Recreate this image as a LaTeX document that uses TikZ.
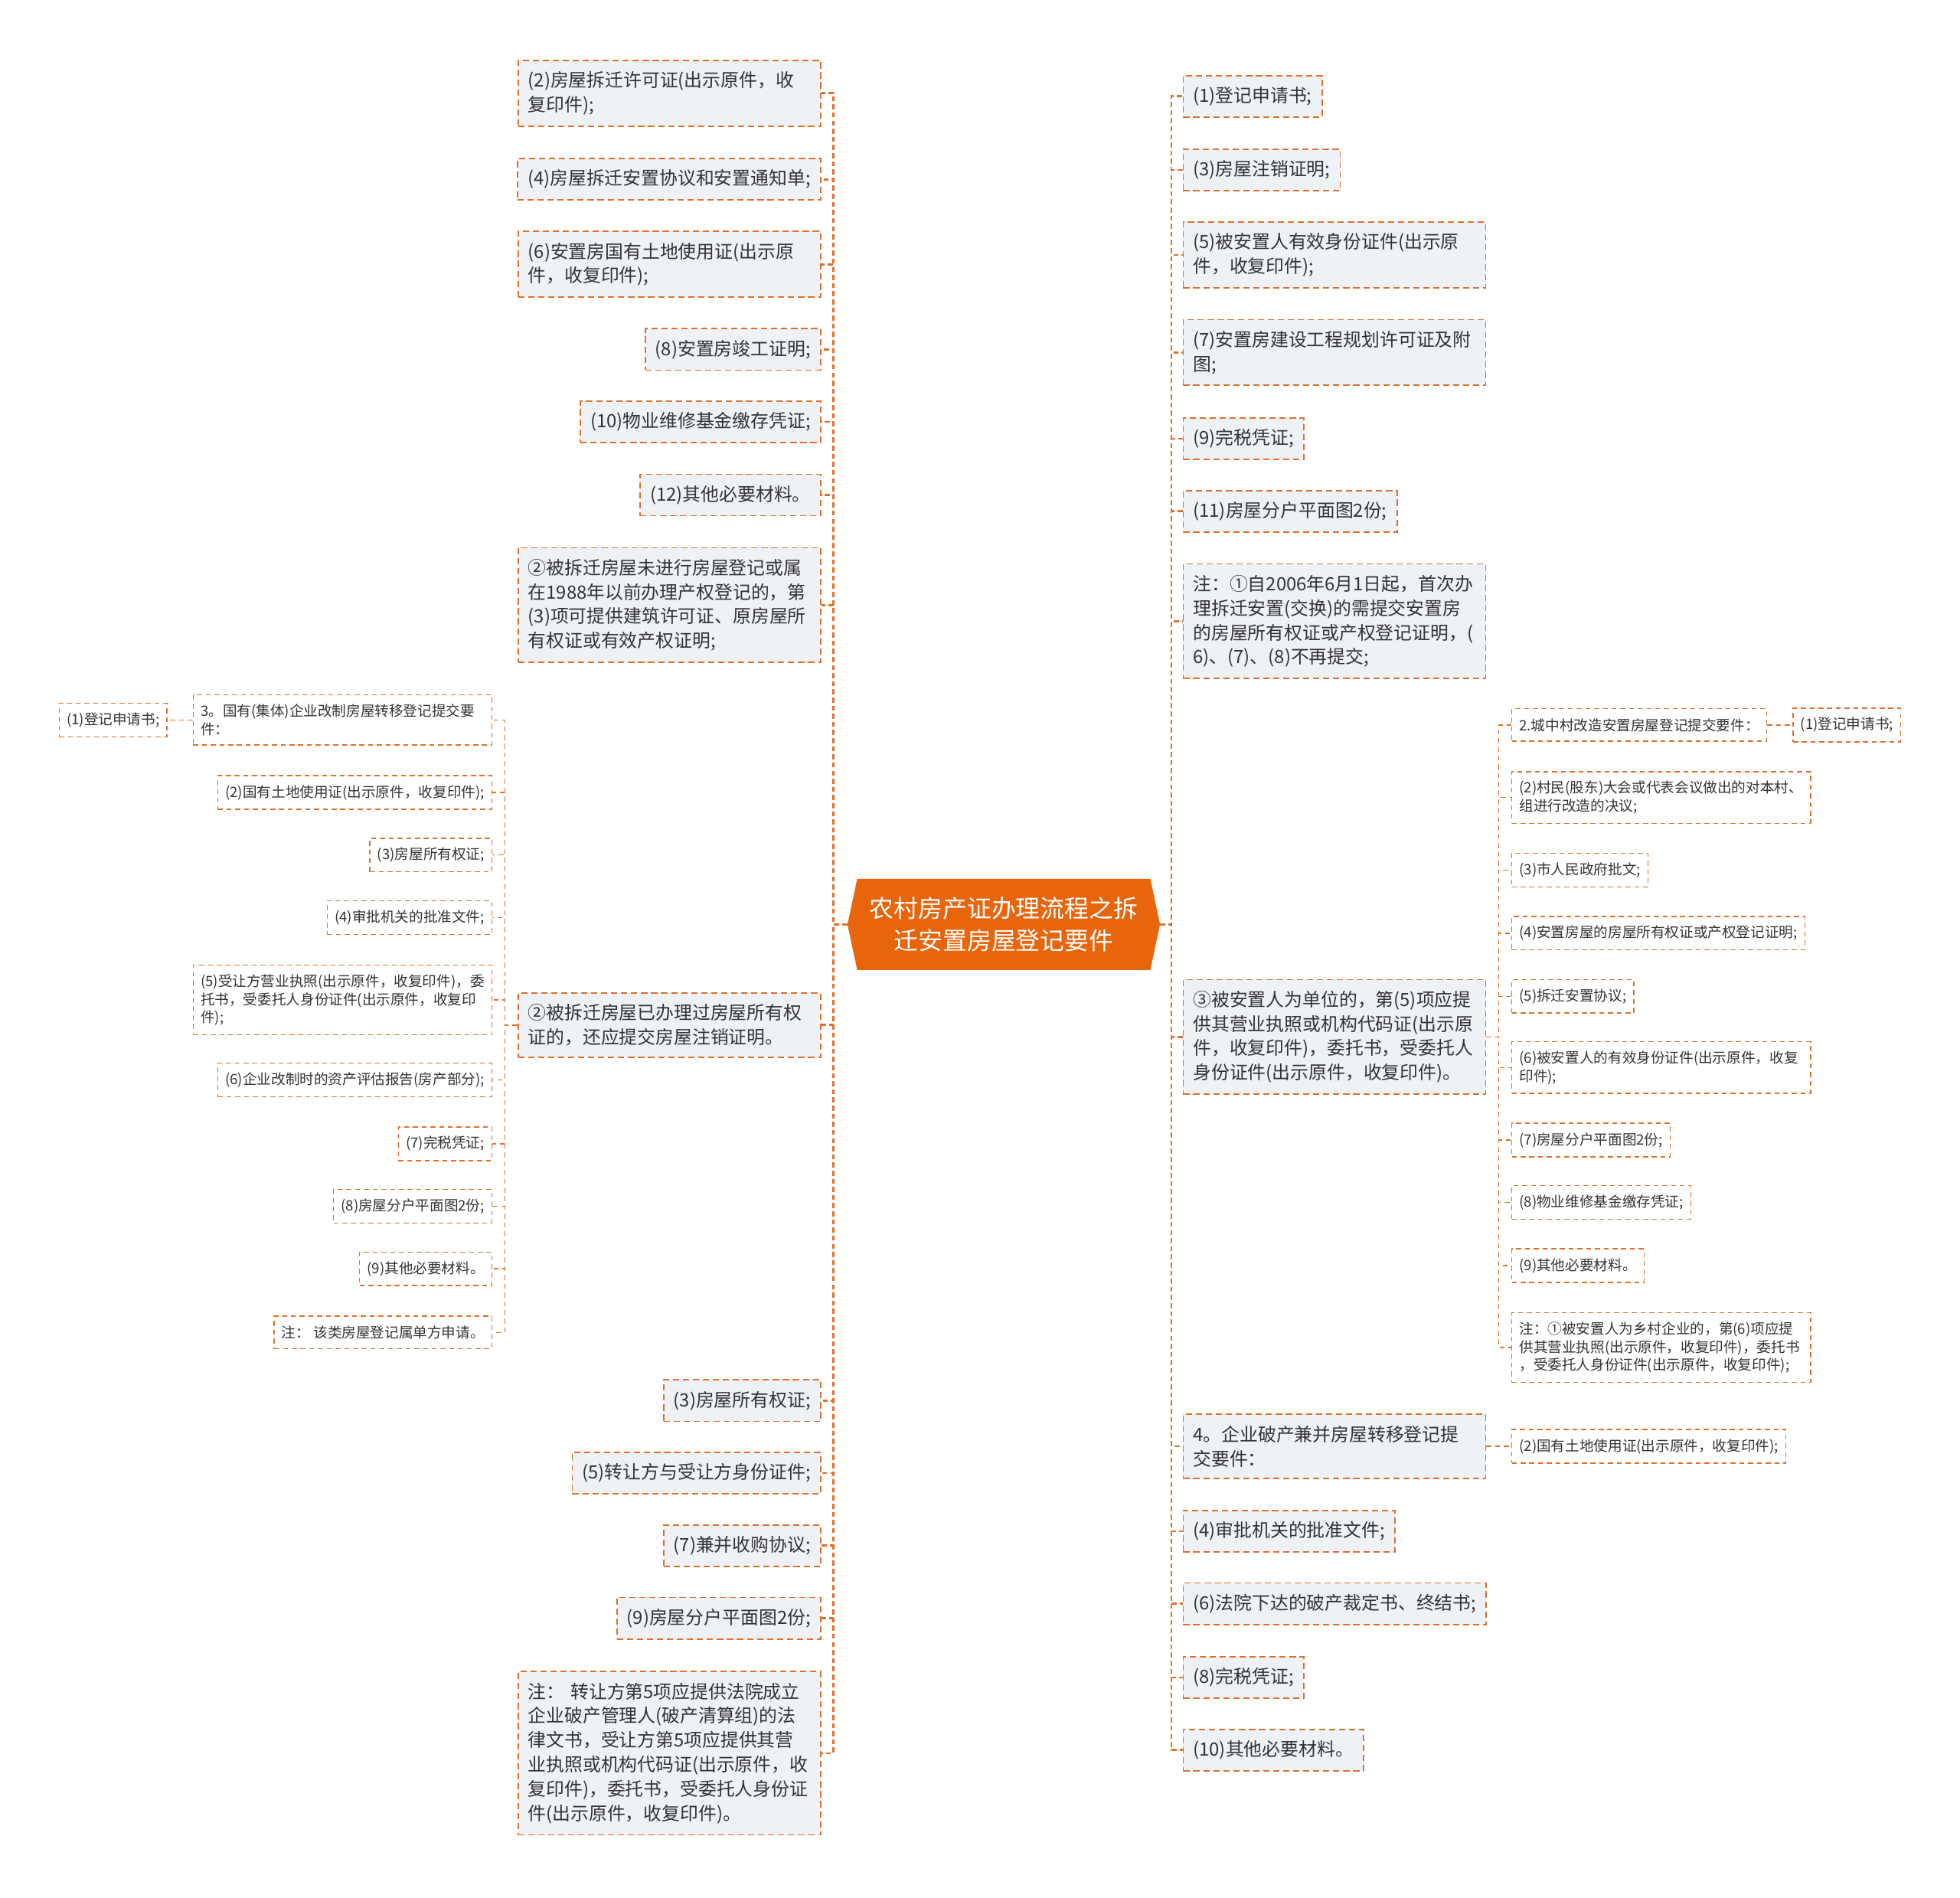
\documentclass[tikz,border=0pt]{standalone}
\usepackage{fontspec}
\setmainfont{Noto Sans CJK SC}
\usetikzlibrary{shapes.symbols}
\definecolor{rootfill}{RGB}{233,101,12}
\definecolor{edgeline}{RGB}{221,112,42}
\definecolor{itemfill}{RGB}{238,241,245}
\definecolor{itemtext}{RGB}{51,51,51}

\begin{document}
\begin{tikzpicture}[
        x=1pt, y=-1pt,
        item/.style={draw=edgeline, line width=1.1pt, dash pattern=on 5pt off 3pt, fill=itemfill, text=itemtext, align=left, inner xsep=8pt, inner ysep=9pt, minimum height=33pt, font=\fontsize{14.6}{19.5}\selectfont},
        itemwide/.style={item, text width=226pt},
        subitem/.style={draw=edgeline, line width=0.9pt, dash pattern=on 4pt off 3pt, fill=white, text=itemtext, align=left, inner xsep=6pt, inner ysep=7.5pt, minimum height=26pt, font=\fontsize{11.4}{14.5}\selectfont},
        subwide/.style={subitem, text width=227pt},
        link/.style={edgeline, line width=1.6pt, dash pattern=on 4pt off 2.5pt},
        sublink/.style={edgeline, line width=0.9pt, dash pattern=on 4pt off 3pt}
    ]
        \useasboundingbox (0,0) rectangle (1568,1518);

        \node[shape=signal, signal to=west and east, signal pointer angle=156, fill=rootfill, text=white, align=center, inner sep=0pt, minimum width=250pt, minimum height=73pt, font=\fontsize{19.5}{26}\selectfont] (root) at (803,739.5) {农村房产证办理流程之拆\\迁安置房屋登记要件};

        \node[itemwide, anchor=east] (demolish) at (657,74.5) {(2)房屋拆迁许可证(出示原件，收\\复印件);};
        \node[item, anchor=east] (agreement) at (657,143.5) {(4)房屋拆迁安置协议和安置通知单;};
        \node[itemwide, anchor=east] (landuse) at (657,211.5) {(6)安置房国有土地使用证(出示原\\件，收复印件);};
        \node[item, anchor=east] (complete) at (657,279.5) {(8)安置房竣工证明;};
        \node[item, anchor=east] (fund) at (657,337.5) {(10)物业维修基金缴存凭证;};
        \node[item, anchor=east] (otherL) at (657,396) {(12)其他必要材料。};
        \node[itemwide, anchor=east] (unregistered) at (657,484) {②被拆迁房屋未进行房屋登记或属\\在1988年以前办理产权登记的，第\\(3)项可提供建筑许可证、原房屋所\\有权证或有效产权证明;};
        \node[itemwide, anchor=east] (registered) at (657,820) {②被拆迁房屋已办理过房屋所有权\\证的，还应提交房屋注销证明。};
        \node[item, anchor=east] (owncert) at (657,1120.5) {(3)房屋所有权证;};
        \node[item, anchor=east] (idcard) at (657,1178.5) {(5)转让方与受让方身份证件;};
        \node[item, anchor=east] (merger) at (657,1236.5) {(7)兼并收购协议;};
        \node[item, anchor=east] (planL) at (657,1294.5) {(9)房屋分户平面图2份;};
        \node[itemwide, anchor=east] (noteL) at (657,1402.5) {注： 转让方第5项应提供法院成立\\企业破产管理人(破产清算组)的法\\律文书，受让方第5项应提供其营\\业执照或机构代码证(出示原件，收\\复印件)，委托书，受委托人身份证\\件(出示原件，收复印件)。};

        \node[subwide, anchor=east] (reform) at (394,576) {3。国有(集体)企业改制房屋转移登记提交要\\件：};
        \node[subitem, anchor=east] (applyA) at (134,576) {(1)登记申请书;};
        \node[subitem, anchor=east] (landA) at (394,634) {(2)国有土地使用证(出示原件，收复印件);};
        \node[subitem, anchor=east] (ownA) at (394,684) {(3)房屋所有权证;};
        \node[subitem, anchor=east] (approveA) at (394,734) {(4)审批机关的批准文件;};
        \node[subwide, anchor=east] (licenseA) at (394,800) {(5)受让方营业执照(出示原件，收复印件)，委\\托书，受委托人身份证件(出示原件，收复印\\件);};
        \node[subitem, anchor=east] (assessA) at (394,864) {(6)企业改制时的资产评估报告(房产部分);};
        \node[subitem, anchor=east] (taxA) at (394,915) {(7)完税凭证;};
        \node[subitem, anchor=east] (planA) at (394,965) {(8)房屋分户平面图2份;};
        \node[subitem, anchor=east] (otherA) at (394,1015) {(9)其他必要材料。};
        \node[subitem, anchor=east] (noteA) at (394,1066) {注： 该类房屋登记属单方申请。};

        \node[item, anchor=west] (apply) at (946,77) {(1)登记申请书;};
        \node[item, anchor=west] (cancel) at (946,136) {(3)房屋注销证明;};
        \node[itemwide, anchor=west] (idpers) at (946,204) {(5)被安置人有效身份证件(出示原\\件，收复印件);};
        \node[itemwide, anchor=west] (planning) at (946,282) {(7)安置房建设工程规划许可证及附\\图;};
        \node[item, anchor=west] (taxR) at (946,351) {(9)完税凭证;};
        \node[item, anchor=west] (planR) at (946,409) {(11)房屋分户平面图2份;};
        \node[itemwide, anchor=west] (noteR) at (946,497) {注：①自2006年6月1日起，首次办\\理拆迁安置(交换)的需提交安置房\\的房屋所有权证或产权登记证明，(\\6)、(7)、(8)不再提交;};
        \node[itemwide, anchor=west] (unit) at (946,829.5) {③被安置人为单位的，第(5)项应提\\供其营业执照或机构代码证(出示原\\件，收复印件)，委托书，受委托人\\身份证件(出示原件，收复印件)。};
        \node[itemwide, anchor=west] (bankrupt) at (946,1157) {4。企业破产兼并房屋转移登记提\\交要件：};
        \node[item, anchor=west] (approveR) at (946,1225) {(4)审批机关的批准文件;};
        \node[item, anchor=west] (court) at (946,1283) {(6)法院下达的破产裁定书、终结书;};
        \node[item, anchor=west] (taxR2) at (946,1342) {(8)完税凭证;};
        \node[item, anchor=west] (otherR) at (946,1400) {(10)其他必要材料。};

        \node[subitem, anchor=west] (village) at (1209,580) {2.城中村改造安置房屋登记提交要件：};
        \node[subitem, anchor=west] (applyB) at (1434,580) {(1)登记申请书;};
        \node[subwide, anchor=west] (resolveB) at (1209,638) {(2)村民(股东)大会或代表会议做出的对本村、\\组进行改造的决议;};
        \node[subitem, anchor=west] (govB) at (1209,696) {(3)市人民政府批文;};
        \node[subitem, anchor=west] (ownB) at (1209,746.5) {(4)安置房屋的房屋所有权证或产权登记证明;};
        \node[subitem, anchor=west] (accordB) at (1209,797) {(5)拆迁安置协议;};
        \node[subwide, anchor=west] (idB) at (1209,854) {(6)被安置人的有效身份证件(出示原件，收复\\印件);};
        \node[subitem, anchor=west] (planB) at (1209,912) {(7)房屋分户平面图2份;};
        \node[subitem, anchor=west] (fundB) at (1209,962) {(8)物业维修基金缴存凭证;};
        \node[subitem, anchor=west] (otherB) at (1209,1012.5) {(9)其他必要材料。};
        \node[subwide, anchor=west] (noteB) at (1209,1078) {注：①被安置人为乡村企业的，第(6)项应提\\供其营业执照(出示原件，收复印件)，委托书\\，受委托人身份证件(出示原件，收复印件);};
        \node[subitem, anchor=west] (landC) at (1209,1157) {(2)国有土地使用证(出示原件，收复印件);};

        \draw[link] (root.west) -- ++(-11,0) |- (demolish.east);
        \draw[link] (root.west) -- ++(-11,0) |- (agreement.east);
        \draw[link] (root.west) -- ++(-11,0) |- (landuse.east);
        \draw[link] (root.west) -- ++(-11,0) |- (complete.east);
        \draw[link] (root.west) -- ++(-11,0) |- (fund.east);
        \draw[link] (root.west) -- ++(-11,0) |- (otherL.east);
        \draw[link] (root.west) -- ++(-11,0) |- (unregistered.east);
        \draw[link] (root.west) -- ++(-11,0) |- (registered.east);
        \draw[link] (root.west) -- ++(-11,0) |- (owncert.east);
        \draw[link] (root.west) -- ++(-11,0) |- (idcard.east);
        \draw[link] (root.west) -- ++(-11,0) |- (merger.east);
        \draw[link] (root.west) -- ++(-11,0) |- (planL.east);
        \draw[link] (root.west) -- ++(-11,0) |- (noteL.east);

        \draw[sublink] (registered.west) -- ++(-10,0) |- (reform.east);
        \draw[sublink] (registered.west) -- ++(-10,0) |- (landA.east);
        \draw[sublink] (registered.west) -- ++(-10,0) |- (ownA.east);
        \draw[sublink] (registered.west) -- ++(-10,0) |- (approveA.east);
        \draw[sublink] (registered.west) -- ++(-10,0) |- (licenseA.east);
        \draw[sublink] (registered.west) -- ++(-10,0) |- (assessA.east);
        \draw[sublink] (registered.west) -- ++(-10,0) |- (taxA.east);
        \draw[sublink] (registered.west) -- ++(-10,0) |- (planA.east);
        \draw[sublink] (registered.west) -- ++(-10,0) |- (otherA.east);
        \draw[sublink] (registered.west) -- ++(-10,0) |- (noteA.east);
        \draw[sublink] (reform.west) -- (applyA.east);

        \draw[link] (root.east) -- ++(9,0) |- (apply.west);
        \draw[link] (root.east) -- ++(9,0) |- (cancel.west);
        \draw[link] (root.east) -- ++(9,0) |- (idpers.west);
        \draw[link] (root.east) -- ++(9,0) |- (planning.west);
        \draw[link] (root.east) -- ++(9,0) |- (taxR.west);
        \draw[link] (root.east) -- ++(9,0) |- (planR.west);
        \draw[link] (root.east) -- ++(9,0) |- (noteR.west);
        \draw[link] (root.east) -- ++(9,0) |- (unit.west);
        \draw[link] (root.east) -- ++(9,0) |- (bankrupt.west);
        \draw[link] (root.east) -- ++(9,0) |- (approveR.west);
        \draw[link] (root.east) -- ++(9,0) |- (court.west);
        \draw[link] (root.east) -- ++(9,0) |- (taxR2.west);
        \draw[link] (root.east) -- ++(9,0) |- (otherR.west);

        \draw[sublink] (unit.east) -- ++(10,0) |- (village.west);
        \draw[sublink] (unit.east) -- ++(10,0) |- (resolveB.west);
        \draw[sublink] (unit.east) -- ++(10,0) |- (govB.west);
        \draw[sublink] (unit.east) -- ++(10,0) |- (ownB.west);
        \draw[sublink] (unit.east) -- ++(10,0) |- (accordB.west);
        \draw[sublink] (unit.east) -- ++(10,0) |- (idB.west);
        \draw[sublink] (unit.east) -- ++(10,0) |- (planB.west);
        \draw[sublink] (unit.east) -- ++(10,0) |- (fundB.west);
        \draw[sublink] (unit.east) -- ++(10,0) |- (otherB.west);
        \draw[sublink] (unit.east) -- ++(10,0) |- (noteB.west);
        \draw[sublink] (village.east) -- (applyB.west);
        \draw[sublink] (bankrupt.east) -- (landC.west);
    \end{tikzpicture}
\end{document}
